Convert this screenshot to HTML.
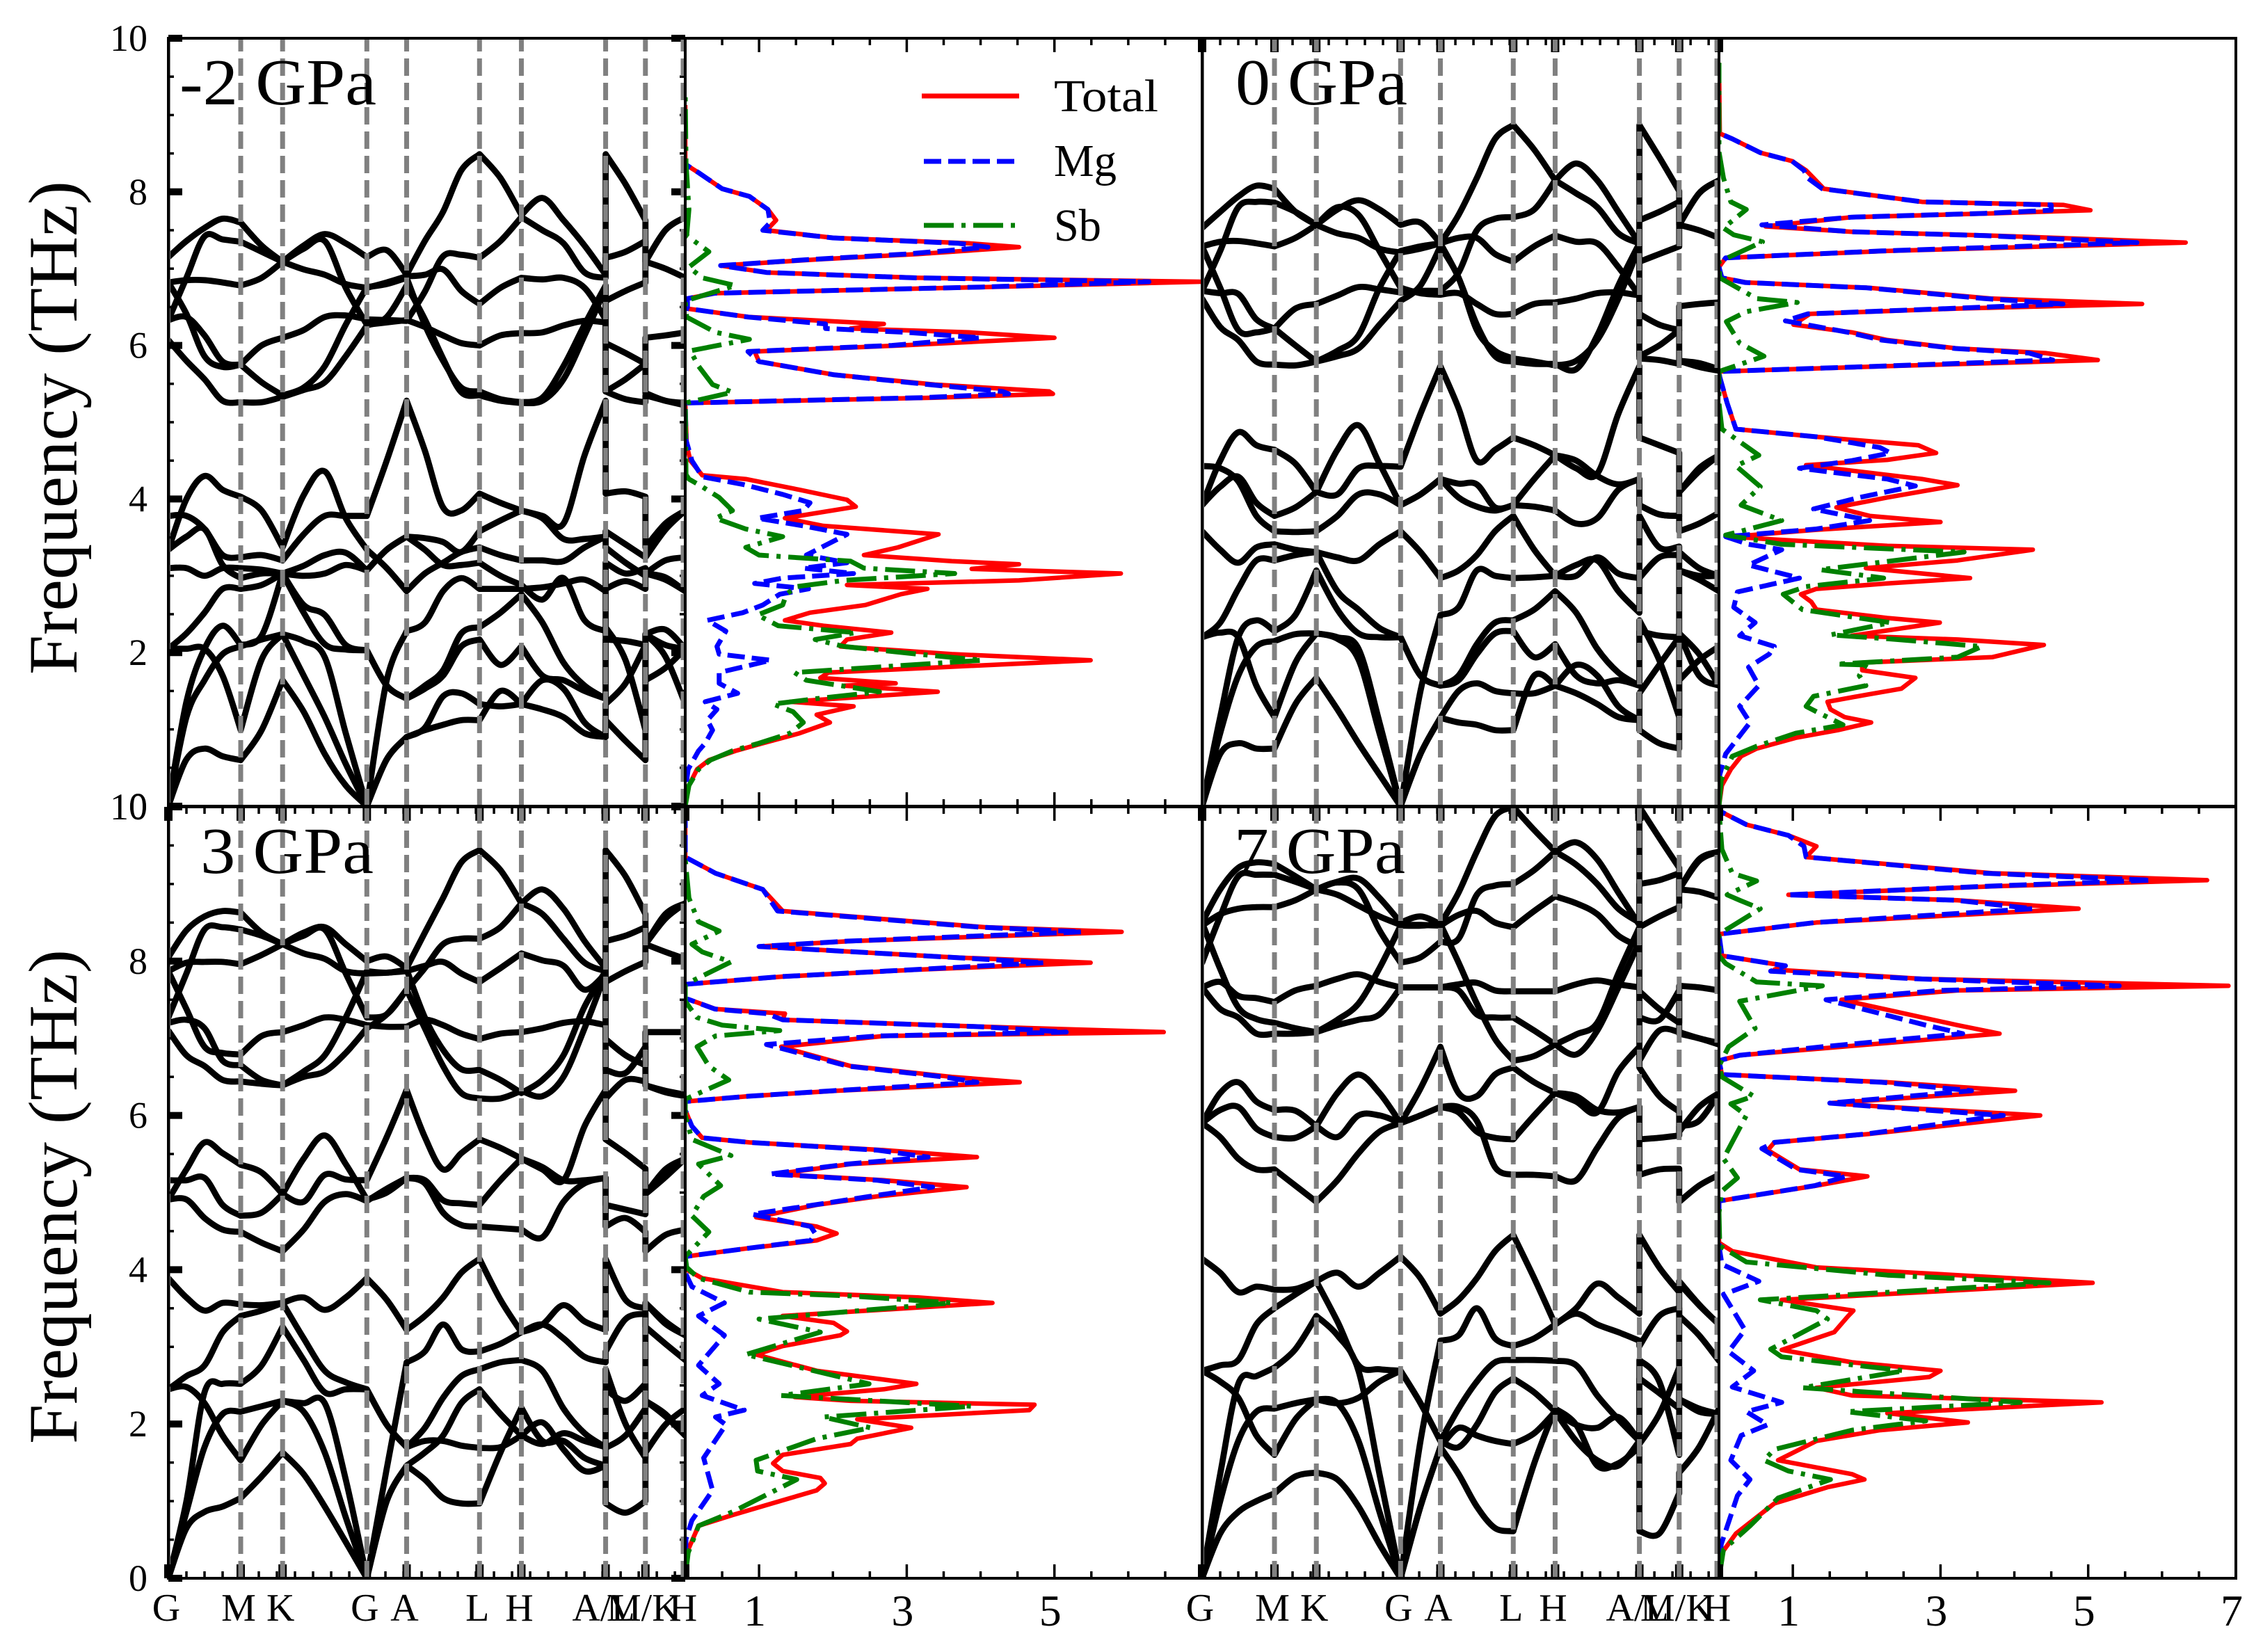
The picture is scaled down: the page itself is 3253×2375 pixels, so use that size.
<!DOCTYPE html>
<html lang="en">
<head>
<meta charset="utf-8">
<title>Phonon bands and DOS of Mg3Sb2 under pressure</title>
<style>
html,body{margin:0;padding:0;background:#fff;}
body{width:3253px;height:2375px;overflow:hidden;}
svg{display:block;}
text{font-family:"Liberation Serif",serif;fill:#000;}
</style>
</head>
<body>
<svg id="chart" xmlns="http://www.w3.org/2000/svg" width="3253" height="2375" viewBox="0 0 3253 2375">
  <rect x="0" y="0" width="3253" height="2375" fill="#fff"/>
  <defs id="clips"></defs>
  <g id="marks"></g>
  <g id="axes"></g>

  <text transform="translate(110,970) rotate(-90)" font-size="100" textLength="710" lengthAdjust="spacingAndGlyphs">Frequency (THz)</text>
  <text transform="translate(110,2076) rotate(-90)" font-size="100" textLength="711" lengthAdjust="spacingAndGlyphs">Frequency (THz)</text>

  <text x="258" y="150" font-size="94" textLength="283" lengthAdjust="spacingAndGlyphs">-2 GPa</text>
  <text x="1776" y="150" font-size="94" textLength="247" lengthAdjust="spacingAndGlyphs">0 GPa</text>
  <text x="288" y="1255" font-size="94" textLength="249" lengthAdjust="spacingAndGlyphs">3 GPa</text>
  <text x="1774" y="1255" font-size="94" textLength="246" lengthAdjust="spacingAndGlyphs">7 GPa</text>

  <g>
    <line x1="1325" y1="138" x2="1465" y2="138" stroke="#ff0000" stroke-width="7"/>
    <text x="1515" y="160" font-size="66" textLength="150" lengthAdjust="spacingAndGlyphs">Total</text>
    <line x1="1328" y1="232" x2="1459" y2="232" stroke="#0000ff" stroke-width="7" stroke-dasharray="25 10"/>
    <text x="1515" y="253" font-size="66" textLength="90" lengthAdjust="spacingAndGlyphs">Mg</text>
    <line x1="1328" y1="324" x2="1459" y2="324" stroke="#008000" stroke-width="7" stroke-dasharray="43 11 6 11"/>
    <text x="1515" y="346" font-size="66" textLength="68" lengthAdjust="spacingAndGlyphs">Sb</text>
  </g>
  <g id="ticklabels"></g>
</svg>
<script>
// ---- axis categories and tick labels ----
const kPathLabels = ['G','M','K','G','A','L','H','A/L','M/K','H'];
const kPathPositions = [0,0.140,0.221,0.384,0.461,0.602,0.683,0.846,0.923,1];
const segmentSubdivisions = [4,2,4,2,4,2,4,2,2];
const freqTickValues = [0,2,4,6,8,10];
const freqTickLabels = ['0','2','4','6','8','10'];
const dosTickValues = [1,3,5,7];
const dosTickLabels = ['1','3','5','7'];
const pressures = ['-2 GPa','0 GPa','3 GPa','7 GPa'];

// ---- phonon branch frequencies (THz) along G-M-K-G-A-L-H-A | L-M | K-H ----
const bandsMinus2 = [
[7.15,7.36,7.53,7.65,7.6,7.3,7.09,7.3,7.45,7.33,7.15,7.24,6.92,7.36,7.74,8.28,8.49,8.18,7.7,7.92,7.63,7.3,6.92,8.49,8.1,7.63,7.09,7.5,7.67],
[6.33,6.88,7.42,7.38,7.35,7.22,7.09,7.26,7.36,6.75,6.27,6.3,6.33,6.24,6.13,6.03,6.0,6.13,6.16,6.17,6.26,6.32,6.3,6.03,5.9,5.76,6.1,6.13,6.17],
[6.82,6.85,6.85,6.82,6.78,6.88,7.09,6.99,6.92,6.8,6.75,6.82,6.9,6.92,6.99,6.71,6.54,6.75,6.88,6.86,6.88,6.75,6.34,6.58,6.71,6.82,7.09,7.0,6.88],
[6.82,6.41,5.86,5.72,5.75,6.0,6.1,6.2,6.37,6.39,6.34,6.33,6.32,6.7,7.16,7.18,7.14,7.36,7.67,7.5,7.33,6.95,6.88,7.14,7.22,7.36,7.09,7.5,7.67],
[6.33,6.37,6.13,5.79,5.75,5.52,5.35,5.45,5.73,6.27,6.76,6.8,6.88,6.27,5.8,5.45,5.4,5.3,5.26,5.32,5.73,6.27,6.78,5.4,5.56,5.76,5.38,5.28,5.25],
[6.07,5.8,5.56,5.28,5.26,5.26,5.33,5.42,5.52,5.86,6.26,6.37,6.78,6.34,5.83,5.39,5.35,5.28,5.25,5.28,5.56,6.13,6.75,5.4,5.3,5.26,5.35,5.28,5.22],
[3.34,4.0,4.3,4.12,4.03,3.85,3.37,4.05,4.36,3.75,3.34,3.1,2.8,3.03,3.17,3.31,3.37,3.27,3.2,3.2,3.19,3.37,3.51,3.37,3.17,3.0,3.03,2.98,2.8],
[3.78,3.78,3.61,3.27,3.24,3.27,3.2,3.54,3.78,3.78,3.78,4.5,5.28,4.63,3.89,3.85,4.07,3.95,3.85,3.78,3.68,4.57,5.28,4.07,4.1,4.03,3.37,3.68,3.85],
[3.34,3.51,3.61,3.14,2.97,3.03,3.03,3.13,3.27,3.3,3.07,3.34,3.51,3.49,3.44,3.31,3.58,3.72,3.85,3.75,3.48,3.48,3.51,3.58,3.41,3.24,3.24,3.6,3.85],
[3.1,3.1,3.0,3.1,3.1,3.08,3.03,3.0,3.03,3.14,3.07,3.34,3.51,3.34,3.14,3.14,3.17,3.0,2.88,2.69,2.97,2.42,2.28,3.17,3.03,3.1,3.03,3.2,3.24],
[2.05,2.25,2.52,2.83,2.83,2.88,3.03,2.62,2.49,2.1,2.03,1.57,1.4,1.57,1.77,2.25,2.33,2.52,2.76,2.39,1.87,1.57,1.4,2.33,1.9,0.99,2.24,1.95,1.33],
[0,1.36,2.05,2.35,2.1,2.22,3.03,2.52,2.11,2.04,2.03,1.57,1.4,1.53,1.7,2.08,2.17,1.84,2.08,1.7,1.64,1.5,1.4,2.17,2.15,2.1,2.24,2.1,2.05],
[0,1.16,1.64,1.98,2.08,2.17,2.24,2.15,1.94,0.95,0,0.61,0.9,0.99,1.06,1.12,1.12,1.5,1.33,1.26,1.16,0.95,0.9,1.12,0.85,0.6,2.24,2.3,2.05],
[2.05,2.05,2.05,1.7,0.99,1.91,2.24,1.7,1.16,0.55,0,1.64,2.28,2.39,2.8,2.97,2.83,2.83,2.83,2.85,2.9,2.95,2.8,2.83,2.93,2.83,3.03,2.95,2.8],
[0,0.61,0.75,0.65,0.6,0.99,1.64,1.23,0.68,0.27,0,0.61,0.9,1.02,1.43,1.47,1.33,1.3,1.33,1.64,1.53,1.09,0.9,1.33,1.6,2.1,1.64,1.8,2.05]
];
const bandsZero = [
[7.53,7.74,7.94,8.08,8.04,7.74,7.57,7.77,7.89,7.77,7.57,7.6,7.33,7.7,8.18,8.69,8.87,8.55,8.15,8.37,8.15,7.74,7.33,8.87,8.45,8.01,7.57,7.98,8.15],
[6.71,7.23,7.8,7.87,7.86,7.74,7.57,7.8,7.7,7.23,6.75,6.68,6.66,6.68,6.54,6.41,6.41,6.54,6.56,6.61,6.68,6.69,6.65,6.41,6.27,6.2,6.51,6.54,6.56],
[7.29,7.35,7.36,7.33,7.29,7.4,7.57,7.46,7.4,7.26,7.21,7.26,7.33,7.4,7.4,7.19,7.09,7.29,7.43,7.35,7.33,7.02,6.65,7.09,7.19,7.29,7.57,7.5,7.4],
[7.29,6.75,6.2,6.17,6.22,6.48,6.54,6.65,6.76,6.73,6.69,6.71,6.71,6.95,7.5,7.65,7.67,7.77,8.15,7.98,7.8,7.46,7.33,7.63,7.74,7.87,7.57,7.98,8.15],
[6.71,6.68,6.67,6.34,6.22,6.0,5.79,5.93,6.13,6.75,7.23,7.29,7.33,6.88,6.27,5.86,5.79,5.76,5.76,5.69,6.13,6.78,7.33,5.86,6.0,6.2,5.8,5.77,5.69],
[6.61,6.24,6.07,5.79,5.75,5.74,5.79,5.86,5.96,6.27,6.58,6.78,7.29,6.88,6.2,5.93,5.83,5.79,5.74,5.8,6.07,6.61,7.29,5.83,5.81,5.76,5.8,5.72,5.67],
[3.92,4.5,4.87,4.7,4.64,4.46,4.09,4.64,4.96,4.46,3.92,4.06,4.26,4.02,3.9,3.85,3.92,4.26,4.57,4.5,4.3,4.19,4.26,3.92,3.8,3.78,4.09,4.4,4.57],
[4.43,4.4,4.23,3.78,3.58,3.57,3.58,3.78,4.06,4.06,3.92,4.06,4.26,4.2,4.19,3.89,3.92,3.9,3.85,3.68,3.75,4.12,4.26,3.92,3.8,3.78,3.58,3.68,3.82],
[3.92,4.16,4.29,3.95,3.78,3.89,4.09,4.06,4.4,4.43,4.42,5.11,5.73,5.18,4.5,4.64,4.8,4.7,4.57,4.4,4.33,5.11,5.73,4.8,4.7,4.6,4.09,4.36,4.57],
[3.58,3.34,3.17,3.37,3.41,3.34,3.31,3.24,3.2,3.41,3.58,3.31,2.97,3.07,3.27,3.58,3.78,3.34,3.0,3.0,3.24,3.03,2.97,3.78,3.37,3.38,3.31,3.1,3.0],
[2.2,2.39,2.83,3.2,3.2,3.27,3.31,2.8,2.56,2.32,2.2,1.7,1.57,1.7,2.11,2.39,2.42,2.56,2.8,2.52,2.05,1.74,1.57,2.42,1.9,1.16,2.25,1.98,1.57],
[2.2,2.26,2.2,1.57,1.16,1.87,2.25,2.2,2.05,1.09,0,1.5,2.49,2.59,3.07,3.0,2.97,2.98,3.0,3.14,3.2,2.8,2.52,2.97,3.24,3.27,3.07,2.95,2.8],
[0,1.16,2.2,2.42,2.28,2.49,3.07,2.56,2.25,2.2,2.2,1.7,1.57,1.64,1.98,2.25,2.28,1.94,2.11,1.7,1.6,1.64,1.57,2.28,2.22,2.2,3.07,3.0,3.0],
[0,0.95,1.7,2.08,2.15,2.24,2.25,2.18,1.91,0.95,0,0.68,1.15,1.09,1.06,0.99,0.99,1.7,1.57,1.84,1.7,1.3,1.12,0.99,0.82,0.75,1.64,1.9,2.08],
[0,0.68,0.82,0.75,0.75,1.33,1.67,1.26,0.82,0.41,0,0.68,1.15,1.5,1.6,1.5,1.47,1.47,1.57,1.47,1.33,1.16,1.12,1.47,1.84,2.2,2.25,1.7,1.57]
];
const bandsThree = [
[8.05,8.4,8.58,8.65,8.63,8.37,8.22,8.37,8.44,8.22,8.0,8.06,7.91,8.37,8.82,9.28,9.44,9.18,8.75,8.93,8.68,8.26,7.91,9.44,9.1,8.61,8.22,8.61,8.75],
[7.27,7.84,8.41,8.44,8.41,8.33,8.22,8.33,8.41,7.84,7.27,7.31,7.63,7.91,8.22,8.29,8.29,8.44,8.75,8.61,8.29,7.98,7.87,8.26,8.33,8.44,8.22,8.55,8.75],
[7.87,7.98,7.99,7.99,7.96,8.08,8.22,8.1,8.03,7.87,7.84,7.85,7.87,7.94,7.99,7.84,7.73,7.91,8.1,8.01,7.94,7.63,7.84,7.73,7.87,7.99,8.22,8.12,8.03],
[7.87,7.38,6.89,6.81,6.79,7.03,7.08,7.17,7.27,7.24,7.17,7.15,7.15,7.24,7.17,7.06,6.99,7.06,7.08,7.13,7.2,7.22,7.17,6.99,6.78,6.65,7.08,7.08,7.08],
[7.2,7.24,7.13,6.71,6.65,6.46,6.39,6.57,6.78,7.27,7.87,7.85,7.89,7.27,6.85,6.6,6.59,6.46,6.29,6.46,6.78,7.41,7.87,6.59,6.55,6.89,6.39,6.32,6.27],
[7.1,6.78,6.64,6.46,6.44,6.41,6.39,6.5,6.57,6.81,7.13,7.31,7.63,7.13,6.64,6.29,6.22,6.22,6.32,6.25,6.5,7.13,7.84,6.22,6.46,6.44,6.39,6.3,6.25],
[4.91,5.3,5.65,5.51,5.36,5.26,4.98,5.44,5.74,5.37,4.91,5.0,5.19,5.16,4.9,4.86,4.84,5.16,5.44,5.33,5.16,5.16,5.19,4.84,4.78,4.72,4.98,5.2,5.44],
[5.16,5.16,5.19,4.84,4.7,4.74,4.98,4.88,5.23,5.17,5.16,5.72,6.33,5.72,5.3,5.51,5.69,5.58,5.44,5.3,5.16,5.86,6.33,5.69,5.51,5.31,4.98,5.3,5.44],
[4.91,4.91,4.67,4.52,4.49,4.35,4.24,4.52,4.88,4.98,4.89,5.05,5.19,5.12,4.74,4.58,4.56,4.54,4.52,4.42,4.88,5.12,5.19,4.56,4.67,4.49,4.24,4.45,4.52],
[3.89,3.64,3.47,3.57,3.55,3.54,3.57,3.64,3.48,3.64,3.89,3.61,3.22,3.4,3.64,3.96,4.14,3.61,3.19,3.29,3.54,3.33,3.22,4.14,3.61,3.5,3.57,3.33,3.15],
[2.45,2.62,2.76,3.19,3.4,3.47,3.57,3.11,2.69,2.54,2.45,1.99,1.7,1.95,2.34,2.62,2.71,2.8,2.83,2.69,2.2,1.88,1.7,2.71,2.0,1.56,3.57,3.3,3.15],
[2.45,2.48,2.27,1.85,1.53,1.99,2.3,2.27,2.27,1.28,0,1.42,2.8,2.94,3.29,2.97,2.94,3.04,3.19,3.29,3.11,2.87,2.8,2.94,3.36,3.43,3.26,3.04,2.83],
[0,1.0,2.41,2.52,2.52,2.76,3.26,2.83,2.41,2.45,2.45,1.99,1.7,1.78,1.78,1.72,1.69,1.7,1.85,1.74,1.88,1.78,1.7,1.69,1.85,2.2,2.3,2.13,1.85],
[0,0.86,1.7,2.13,2.16,2.23,2.3,2.16,1.63,0.79,0,1.0,1.46,1.63,1.85,2.27,2.45,2.13,1.85,2.02,1.67,1.39,1.46,2.45,2.3,2.52,2.3,2.1,1.85],
[0,0.65,0.86,0.93,1.04,1.32,1.63,1.35,0.93,0.47,0,1.0,1.46,1.28,1.04,0.97,0.97,1.63,2.21,1.78,1.78,1.56,1.46,0.97,0.85,1.0,1.63,1.99,2.2]
];
const bandsSeven = [
[8.5,8.93,9.21,9.28,9.26,9.1,8.93,9.03,9.07,8.82,8.5,8.58,8.48,8.89,9.42,9.88,10.0,9.7,9.42,9.54,9.32,8.89,8.47,10.0,9.6,9.21,8.93,9.32,9.42],
[7.98,8.58,9.1,9.12,9.12,9.03,8.93,9.02,8.93,8.4,7.98,8.05,8.25,8.29,8.86,8.98,9.0,9.18,9.42,9.25,9.0,8.68,8.5,9.0,9.05,9.14,8.93,9.3,9.42],
[8.46,8.61,8.68,8.7,8.7,8.79,8.93,8.86,8.72,8.58,8.47,8.47,8.46,8.6,8.65,8.5,8.44,8.65,8.84,8.75,8.61,8.33,8.19,8.44,8.58,8.7,8.93,8.9,8.82],
[8.5,7.9,7.4,7.25,7.2,7.13,7.08,7.24,7.45,7.91,8.46,8.46,8.48,7.98,7.45,6.99,6.71,6.77,6.92,6.79,7.1,7.66,8.25,6.71,7.1,7.08,7.08,7.0,6.94],
[7.66,7.73,7.55,7.52,7.47,7.62,7.68,7.77,7.83,7.73,7.66,7.66,7.66,7.7,7.72,7.62,7.61,7.61,7.61,7.7,7.75,7.7,7.66,7.61,7.38,7.2,7.68,7.66,7.62],
[7.66,7.38,7.27,7.06,7.06,7.06,7.08,7.17,7.24,7.31,7.66,7.66,7.66,7.62,7.31,7.27,7.27,7.1,6.92,7.05,7.2,7.84,8.44,7.27,7.24,7.62,7.06,7.0,6.92],
[5.9,6.29,6.43,6.18,6.07,6.06,5.86,6.29,6.53,6.29,5.9,6.35,6.89,6.29,6.25,6.53,6.62,6.43,6.29,6.18,6.04,6.57,6.89,6.62,6.25,6.05,5.79,6.11,6.29],
[5.9,6.07,6.11,5.83,5.72,5.71,5.86,5.72,6.0,6.0,5.9,6.0,6.11,6.11,5.93,5.33,5.23,5.23,5.21,5.16,5.58,5.97,6.11,5.23,5.3,5.31,4.88,5.09,5.23],
[5.9,5.72,5.44,5.3,5.3,5.09,4.88,5.16,5.51,5.79,5.9,6.0,6.11,6.04,5.79,5.71,5.69,6.0,6.29,6.25,6.07,6.04,6.11,5.69,5.71,5.74,5.86,5.93,6.29],
[4.14,3.96,3.71,3.78,3.74,3.75,3.85,3.96,3.78,3.96,4.17,3.89,3.43,3.61,3.89,4.24,4.45,3.89,3.29,3.5,3.82,3.64,3.43,4.45,4.03,3.71,3.82,3.54,3.29],
[2.69,2.76,2.83,3.29,3.5,3.68,3.85,3.33,2.76,2.71,2.69,2.27,1.78,2.2,2.55,2.8,2.83,2.83,2.82,2.76,2.37,2.06,1.78,2.83,2.55,1.6,3.85,3.55,3.29],
[2.69,2.55,2.34,1.85,1.6,2.06,2.32,2.27,2.34,2.55,2.69,2.27,1.78,1.7,1.99,2.41,2.59,2.41,2.16,1.78,1.53,1.46,1.78,2.59,2.4,2.2,2.32,2.2,2.13],
[0,1.35,2.52,2.62,2.73,2.97,3.4,3.15,2.69,1.35,0,1.78,3.08,3.15,3.5,3.11,3.01,3.11,3.29,3.43,3.29,3.19,3.08,3.01,3.4,3.5,3.4,3.15,2.82],
[0,1.0,1.78,2.16,2.2,2.27,2.32,2.27,1.78,0.86,0,0.93,1.7,1.95,1.85,1.78,1.74,1.88,2.16,1.99,1.95,2.09,1.78,1.74,2.13,2.73,2.32,2.16,2.13],
[0,0.58,0.86,1.0,1.1,1.32,1.37,1.28,0.93,0.44,0,0.93,1.7,1.35,0.93,0.65,0.61,1.49,2.2,1.99,1.46,1.49,1.7,0.61,0.58,1.1,1.37,1.7,2.2]
];

// ---- phonon DOS: [frequency THz, DOS] ----
const dosTotalMinus2 = [[0,0],[0.27,0.05],[0.48,0.16],[0.6,0.32],[0.72,0.68],[0.82,1.05],[0.95,1.55],[1.09,1.96],[1.19,1.78],[1.3,2.28],[1.36,1.42],[1.49,3.42],[1.57,2.15],[1.6,2.85],[1.67,1.83],[1.74,1.94],[1.9,5.49],[1.98,3.61],[2.08,2.1],[2.17,2.19],[2.26,2.79],[2.35,1.87],[2.42,1.35],[2.52,1.69],[2.62,2.44],[2.76,2.92],[2.83,3.28],[2.88,2.19],[2.94,4.52],[3.03,5.9],[3.09,3.88],[3.15,4.52],[3.19,3.61],[3.27,2.42],[3.37,2.88],[3.54,3.43],[3.65,1.87],[3.75,1.35],[3.9,2.31],[3.99,2.19],[4.12,1.55],[4.26,0.82],[4.31,0.23],[4.5,0.07],[4.7,0.02],[5.25,0],[5.32,3.38],[5.37,4.98],[5.4,4.93],[5.49,3.38],[5.62,2.01],[5.79,1.0],[5.92,0.94],[6.0,2.92],[6.1,5.0],[6.17,3.84],[6.22,2.24],[6.28,2.69],[6.37,0.87],[6.48,0.02],[6.61,0.02],[6.68,0.41],[6.76,4.06],[6.83,6.99],[6.88,3.15],[6.95,1.1],[7.04,0.48],[7.12,1.78],[7.19,3.15],[7.28,4.52],[7.33,3.84],[7.4,2.01],[7.5,1.1],[7.63,1.23],[7.77,1.12],[7.94,0.87],[8.04,0.5],[8.25,0.18],[8.36,0],[9.13,0]];
const dosMgMinus2 = [[0,0],[0.27,0.01],[0.48,0.04],[0.72,0.18],[0.82,0.27],[0.99,0.37],[1.12,0.3],[1.26,0.43],[1.36,0.27],[1.47,0.71],[1.6,0.46],[1.74,0.46],[1.9,1.16],[1.98,0.46],[2.08,0.43],[2.28,0.55],[2.42,0.3],[2.52,0.78],[2.62,1.05],[2.76,1.28],[2.83,1.67],[2.9,0.94],[2.97,1.32],[3.03,2.28],[3.1,1.6],[3.17,2.19],[3.27,1.64],[3.54,2.19],[3.65,1.6],[3.75,0.98],[3.85,1.6],[3.95,1.69],[4.06,1.32],[4.19,0.78],[4.29,0.23],[4.5,0.09],[4.77,0.01],[5.25,0],[5.32,3.2],[5.37,4.38],[5.4,4.3],[5.49,3.3],[5.62,2.0],[5.79,1.0],[5.92,0.85],[6.0,2.8],[6.1,4.0],[6.17,3.0],[6.22,1.9],[6.28,1.9],[6.37,0.85],[6.48,0.03],[6.61,0.03],[6.68,0.4],[6.76,4.0],[6.83,6.28],[6.88,3.1],[6.95,1.1],[7.04,0.48],[7.12,1.7],[7.19,3.0],[7.28,4.1],[7.33,3.7],[7.4,2.0],[7.5,1.05],[7.6,1.15],[7.77,1.12],[7.94,0.87],[8.04,0.5],[8.25,0.18],[8.36,0]];
const dosSbMinus2 = [[0,0],[0.27,0.05],[0.48,0.18],[0.6,0.34],[0.72,0.64],[0.82,1.0],[0.95,1.42],[1.09,1.6],[1.23,1.46],[1.33,1.19],[1.4,1.78],[1.49,2.63],[1.64,1.64],[1.74,1.48],[1.9,4.02],[1.98,3.15],[2.08,2.15],[2.17,1.76],[2.26,2.31],[2.35,1.26],[2.49,0.98],[2.62,1.32],[2.76,1.37],[2.86,1.51],[2.94,2.15],[3.03,3.65],[3.1,2.42],[3.19,2.24],[3.27,1.0],[3.37,0.82],[3.51,1.32],[3.61,0.82],[3.75,0.41],[3.85,0.64],[4.02,0.46],[4.16,0.23],[4.26,0.05],[4.32,0.01],[5.25,0],[5.39,0.64],[5.49,0.37],[5.73,0.18],[5.93,0.07],[6.08,0.87],[6.17,0.41],[6.37,0.02],[6.58,0],[6.78,0.68],[6.88,0.23],[7.02,0.05],[7.22,0.32],[7.43,0.02],[7.77,0.05],[8.38,0.01],[9.27,0]];

const dosTotalZero = [[0,0],[0.27,0.04],[0.48,0.16],[0.65,0.3],[0.75,0.51],[0.89,1.04],[0.99,1.61],[1.09,2.06],[1.16,1.7],[1.26,1.51],[1.36,1.47],[1.45,1.99],[1.53,2.47],[1.67,2.66],[1.77,1.94],[1.87,1.94],[1.94,3.7],[2.1,4.4],[2.17,3.23],[2.22,1.8],[2.39,2.99],[2.45,2.28],[2.56,1.32],[2.66,1.25],[2.76,1.11],[2.83,1.32],[2.9,2.28],[2.97,3.4],[3.1,1.99],[3.2,3.23],[3.34,4.25],[3.39,2.28],[3.48,0.61],[3.51,0.18],[3.6,1.32],[3.7,3.0],[3.78,2.04],[3.89,1.59],[4.02,2.28],[4.18,3.23],[4.26,2.75],[4.44,1.18],[4.51,2.28],[4.6,2.94],[4.7,2.7],[4.81,1.32],[4.91,0.23],[5.25,0.11],[5.59,0.01],[5.66,0],[5.73,2.28],[5.81,5.13],[5.9,4.42],[5.96,3.23],[6.07,2.28],[6.17,1.8],[6.27,1.01],[6.41,1.23],[6.48,3.23],[6.54,5.73],[6.61,3.7],[6.75,2.04],[6.82,0.37],[6.88,0.04],[7.02,0],[7.14,0.09],[7.23,2.28],[7.34,6.32],[7.43,3.7],[7.48,1.8],[7.55,0.63],[7.67,1.8],[7.72,3.7],[7.76,5.03],[7.83,4.66],[7.87,2.75],[8.04,1.42],[8.18,1.28],[8.28,1.18],[8.4,0.99],[8.51,0.56],[8.69,0.18],[8.76,0.01],[9.68,0]];
const dosMgZero = [[0,0],[0.41,0.01],[0.68,0.09],[1.09,0.42],[1.3,0.28],[1.57,0.54],[1.81,0.4],[1.98,0.68],[2.08,0.75],[2.22,0.28],[2.39,0.49],[2.59,0.2],[2.79,0.25],[2.97,1.09],[3.14,0.4],[3.34,0.85],[3.41,0.4],[3.51,0.09],[3.61,1.32],[3.72,2.04],[3.87,1.28],[4.02,1.9],[4.17,2.66],[4.26,2.28],[4.4,1.09],[4.5,1.8],[4.6,2.32],[4.67,2.18],[4.81,1.32],[4.91,0.23],[5.25,0.11],[5.59,0.01],[5.66,0],[5.73,2.2],[5.81,4.52],[5.9,4.2],[5.96,3.2],[6.07,2.2],[6.17,1.75],[6.32,0.9],[6.41,1.2],[6.48,3.1],[6.54,4.66],[6.61,3.6],[6.75,2.0],[6.82,0.35],[6.88,0.04],[7.02,0],[7.14,0.09],[7.23,2.2],[7.34,5.66],[7.43,3.6],[7.48,1.8],[7.57,0.58],[7.67,1.8],[7.72,3.6],[7.76,4.5],[7.83,4.5],[7.87,2.75],[8.04,1.4],[8.18,1.2],[8.28,1.15],[8.4,0.99],[8.51,0.56],[8.69,0.18],[8.76,0.01]];
const dosSbZero = [[0,0],[0.34,0.03],[0.65,0.18],[0.78,0.51],[0.95,1.04],[1.06,1.68],[1.23,1.32],[1.3,1.18],[1.43,1.28],[1.57,1.99],[1.7,1.9],[1.84,1.99],[1.85,1.59],[1.94,3.23],[2.08,3.56],[2.18,2.28],[2.23,1.51],[2.39,2.32],[2.56,1.13],[2.76,0.87],[2.86,1.18],[2.97,2.23],[3.08,1.37],[3.31,3.32],[3.41,0.85],[3.53,0.09],[3.72,0.85],[3.92,0.3],[4.16,0.56],[4.43,0.23],[4.57,0.54],[4.91,0.04],[5.25,0],[5.66,0],[5.86,0.61],[6.03,0.28],[6.31,0.1],[6.44,0.37],[6.56,1.06],[6.61,0.51],[6.88,0.01],[7.09,0],[7.35,0.59],[7.44,0.2],[7.53,0.06],[7.77,0.37],[7.87,0.16],[8.18,0.06],[8.52,0],[9.68,0]];

const dosTotalThree = [[0,0],[0.37,0.04],[0.68,0.18],[0.82,0.64],[1.0,1.28],[1.14,1.78],[1.23,1.89],[1.3,1.83],[1.39,1.32],[1.49,1.19],[1.6,1.32],[1.74,2.24],[1.81,2.33],[1.95,3.06],[2.06,2.33],[2.18,4.66],[2.25,4.73],[2.3,2.24],[2.35,1.48],[2.45,2.69],[2.52,3.13],[2.69,1.78],[2.9,0.96],[3.01,1.32],[3.15,2.1],[3.2,2.19],[3.31,2.01],[3.4,1.32],[3.57,4.16],[3.64,3.15],[3.71,1.32],[3.89,0.23],[4.0,0.02],[4.17,0],[4.28,0.87],[4.38,1.78],[4.47,2.05],[4.56,1.78],[4.68,0.96],[4.84,1.78],[4.95,2.6],[5.07,3.81],[5.16,2.69],[5.24,1.23],[5.37,2.24],[5.46,3.95],[5.55,2.69],[5.65,0.87],[5.71,0.23],[5.86,0.09],[6.07,0],[6.18,0],[6.25,0.87],[6.32,2.05],[6.43,4.53],[6.5,3.61],[6.64,2.24],[6.89,1.3],[7.03,2.69],[7.08,6.48],[7.15,4.06],[7.24,1.32],[7.32,1.35],[7.38,0.41],[7.52,0],[7.7,0],[7.8,1.32],[7.89,3.15],[7.98,5.49],[8.05,3.61],[8.19,1.0],[8.26,2.24],[8.38,5.91],[8.44,4.06],[8.65,1.32],[8.93,1.05],[9.14,0.41],[9.35,0],[9.95,0]];
const dosMgThree = [[0,0],[0.51,0.01],[0.75,0.09],[1.14,0.37],[1.56,0.25],[1.99,0.55],[2.09,0.41],[2.18,0.8],[2.37,0.23],[2.52,0.46],[2.76,0.18],[3.15,0.53],[3.4,0.18],[3.57,0.53],[3.78,0.09],[3.96,0],[4.17,0],[4.28,0.87],[4.38,1.7],[4.47,1.76],[4.56,1.7],[4.72,0.91],[4.84,1.75],[4.95,2.5],[5.07,3.35],[5.16,2.6],[5.24,1.15],[5.37,2.2],[5.46,3.29],[5.55,2.6],[5.65,0.87],[5.71,0.23],[5.86,0.09],[6.07,0],[6.18,0],[6.25,0.87],[6.32,2.0],[6.43,3.95],[6.5,3.5],[6.64,2.2],[6.92,1.1],[7.03,2.6],[7.08,5.16],[7.15,4.0],[7.24,1.32],[7.32,1.1],[7.38,0.4],[7.52,0],[7.7,0],[7.8,1.3],[7.89,3.1],[7.98,4.86],[8.05,3.6],[8.19,1.0],[8.26,2.2],[8.38,5.37],[8.44,4.0],[8.65,1.25],[8.93,1.05],[9.14,0.41],[9.35,0],[9.95,0]];
const dosSbThree = [[0,0],[0.33,0.04],[0.68,0.18],[0.86,0.64],[1.28,1.51],[1.39,0.98],[1.53,0.96],[1.81,1.78],[1.95,2.51],[2.09,1.87],[2.23,3.88],[2.37,1.3],[2.52,2.49],[2.9,0.82],[3.11,1.55],[3.19,1.83],[3.36,1.0],[3.57,3.61],[3.66,2.24],[3.71,0.87],[3.89,0.18],[4.03,0.02],[4.17,0],[4.49,0.32],[4.7,0.09],[4.95,0.25],[5.09,0.48],[5.37,0.18],[5.48,0.62],[5.69,0.09],[6.0,0],[6.21,0],[6.46,0.59],[6.64,0.32],[6.89,0.16],[7.03,0.41],[7.1,1.28],[7.17,0.5],[7.27,0.16],[7.48,0],[7.7,0],[7.99,0.62],[8.12,0.23],[8.22,0.09],[8.39,0.46],[8.51,0.18],[8.82,0.05],[9.32,0]];

const dosTotalSeven = [[0,0],[0.33,0.04],[0.58,0.23],[0.97,0.75],[1.18,1.47],[1.28,1.97],[1.35,1.8],[1.53,0.8],[1.78,1.32],[1.92,2.18],[2.02,3.37],[2.14,2.28],[2.28,5.18],[2.37,1.8],[2.47,1.32],[2.61,2.85],[2.69,3.0],[2.8,1.8],[2.96,0.85],[3.19,1.56],[3.4,1.75],[3.47,1.82],[3.61,0.85],[3.83,5.06],[3.93,3.23],[4.03,1.32],[4.24,0.18],[4.35,0],[4.89,0],[5.09,1.32],[5.21,2.01],[5.3,1.09],[5.55,0.66],[5.65,0.75],[5.76,2.04],[6.0,4.35],[6.11,2.28],[6.16,1.51],[6.32,4.01],[6.43,2.28],[6.53,0.04],[6.71,0],[6.78,0.28],[6.89,1.66],[7.06,3.8],[7.17,3.23],[7.5,1.66],[7.62,3.23],[7.68,6.9],[7.77,2.75],[7.89,0.75],[7.94,0.9],[8.07,0.04],[8.35,0],[8.5,1.32],[8.68,4.87],[8.79,3.23],[8.86,0.94],[8.97,3.7],[9.05,6.61],[9.14,3.7],[9.35,1.18],[9.49,1.32],[9.63,0.94],[9.77,0.37],[9.95,0]];
const dosMgSeven = [[0,0],[0.44,0.03],[1.07,0.25],[1.28,0.42],[1.53,0.16],[1.85,0.3],[1.99,0.66],[2.16,0.37],[2.28,0.85],[2.48,0.18],[2.69,0.47],[2.94,0.13],[3.22,0.35],[3.68,0.06],[3.85,0.54],[4.07,0.04],[4.31,0],[4.89,0],[5.09,1.3],[5.21,1.72],[5.3,1.05],[5.57,0.58],[5.65,0.75],[5.76,2.0],[6.0,3.85],[6.11,2.2],[6.16,1.5],[6.32,3.42],[6.43,2.2],[6.53,0.04],[6.71,0],[6.78,0.28],[6.89,1.4],[7.06,3.3],[7.17,2.8],[7.5,1.45],[7.62,3.0],[7.68,5.42],[7.77,2.7],[7.87,0.7],[7.94,0.9],[8.07,0.04],[8.35,0],[8.5,1.3],[8.68,4.25],[8.79,3.2],[8.86,0.92],[8.97,3.6],[9.05,5.85],[9.14,3.6],[9.35,1.18],[9.49,1.15],[9.63,0.94],[9.77,0.37],[9.95,0]];
const dosSbSeven = [[0,0],[0.37,0.06],[0.68,0.42],[1.04,0.8],[1.28,1.51],[1.39,0.94],[1.53,0.61],[1.67,0.75],[1.92,1.8],[2.04,2.8],[2.16,1.73],[2.28,4.08],[2.47,1.13],[2.69,2.51],[2.87,0.85],[2.97,0.7],[3.36,1.47],[3.47,1.32],[3.61,0.56],[3.83,4.47],[3.93,2.28],[4.1,0.37],[4.31,0.01],[4.74,0],[5.02,0.04],[5.19,0.25],[5.44,0.06],[6.0,0.37],[6.15,0.16],[6.25,0.47],[6.5,0.04],[6.64,0],[6.89,0.13],[7.13,0.49],[7.48,0.28],[7.68,1.4],[7.73,0.51],[7.97,0.09],[8.07,0],[8.35,0],[8.68,0.56],[8.79,0.28],[8.86,0.11],[9.04,0.51],[9.14,0.18],[9.45,0.04],[9.95,0]];

const bandSets = [bandsMinus2, bandsZero, bandsThree, bandsSeven];
const dosTotals = [dosTotalMinus2, dosTotalZero, dosTotalThree, dosTotalSeven];
const dosMgs = [dosMgMinus2, dosMgZero, dosMgThree, dosMgSeven];
const dosSbs = [dosSbMinus2, dosSbZero, dosSbThree, dosSbSeven];

// ---- layout ----
const NS = 'http://www.w3.org/2000/svg';
const gMarks = document.getElementById('marks');
const gAxes = document.getElementById('axes');
const gLabels = document.getElementById('ticklabels');
const gClips = document.getElementById('clips');
const PANEL_W = 743;
const DOS_MAX = 7;
const rows = [{top:55,bottom:1159},{top:1160,bottom:2269}];
const columns = [{band:242,dos:985},{band:1728,dos:2471}];

function mk(tag, attrs, parent){
  const el = document.createElementNS(NS, tag);
  for (const k in attrs) el.setAttribute(k, attrs[k]);
  parent.appendChild(el);
  return el;
}
function freqScale(row){
  return f => row.bottom - (f/10)*(row.bottom-row.top);
}
function kScale(left){
  return k => left + k*PANEL_W;
}
function dosScale(left){
  return d => left + (d/DOS_MAX)*PANEL_W;
}
function addClip(id,x,row){
  const c = mk('clipPath',{id:id},gClips);
  mk('rect',{x:x,y:row.top,width:PANEL_W,height:row.bottom-row.top},c);
}
// grid of k coordinates built from the path positions
function buildSegments(){
  const segs=[]; let idx=0;
  segmentSubdivisions.forEach((n,s)=>{
    const k0=kPathPositions[s],k1=kPathPositions[s+1];
    const ks=[];
    for(let i=0;i<=n;i++) ks.push(k0+(k1-k0)*i/n);
    segs.push({start:idx,ks:ks});
    idx += (s<6) ? n : n+1;
  });
  return segs;
}
const segments = buildSegments();
// segment 7 (L-M) begins after node 22; segment 8 (K-H) after 25
segments[7].start = 23;
segments[8].start = 26;

function bandPath(values,xf,yf){
  let d='';
  segments.forEach((seg,si)=>{
    const pts = seg.ks.map((k,i)=>[xf(k),yf(values[seg.start+i])]);
    const n = pts.length;
    if(si===0) d += 'M'+pts[0][0].toFixed(1)+' '+pts[0][1].toFixed(1);
    else d += 'L'+pts[0][0].toFixed(1)+' '+pts[0][1].toFixed(1);
    for(let i=0;i<n-1;i++){
      const p0=pts[Math.max(i-1,0)],p1=pts[i],p2=pts[i+1],p3=pts[Math.min(i+2,n-1)];
      const c1x=p1[0]+(p2[0]-p0[0])/6,c1y=p1[1]+(p2[1]-p0[1])/6;
      const c2x=p2[0]-(p3[0]-p1[0])/6,c2y=p2[1]-(p3[1]-p1[1])/6;
      d+='C'+c1x.toFixed(1)+' '+c1y.toFixed(1)+' '+c2x.toFixed(1)+' '+c2y.toFixed(1)+' '+p2[0].toFixed(1)+' '+p2[1].toFixed(1);
    }
  });
  return d;
}
function dosPath(pairs,xf,yf){
  return pairs.map((p,i)=>(i?'L':'M')+xf(p[1]).toFixed(1)+' '+yf(p[0]).toFixed(1)).join('');
}
function tickLine(x1,y1,x2,y2,w,name){
  const t = mk('line',{x1:x1,y1:y1,x2:x2,y2:y2,stroke:'#000','stroke-width':w},gAxes);
  
  
  return t;
}

// ---- draw each pressure panel pair ----
pressures.forEach((label,pi)=>{
  const row = rows[pi<2?0:1];
  const col = columns[pi%2];
  const yf = freqScale(row);
  const kx = kScale(col.band);
  const dx = dosScale(col.dos);
  addClip('band-clip-'+pi,col.band,row);
  addClip('dos-clip-'+pi,col.dos,row);

  // phonon branches
  const gBand = mk('g',{'clip-path':'url(#band-clip-'+pi+')'},gMarks);
  
  
  bandSets[pi].forEach(values=>{
    const p = mk('path',{d:bandPath(values,kx,yf),fill:'none',stroke:'#000','stroke-width':8.8,'stroke-linejoin':'round','stroke-linecap':'round'},gBand);
    
    
  });

  // DOS curves
  const gDos = mk('g',{'clip-path':'url(#dos-clip-'+pi+')'},gMarks);
  
  
  const total = mk('path',{d:dosPath(dosTotals[pi],dx,yf),fill:'none',stroke:'#ff0000','stroke-width':6.5,'stroke-linejoin':'round'},gDos);
  
  
  const mg = mk('path',{d:dosPath(dosMgs[pi],dx,yf),fill:'none',stroke:'#0000ff','stroke-width':7,'stroke-dasharray':'25 10','stroke-linejoin':'round'},gDos);
  
  
  const sb = mk('path',{d:dosPath(dosSbs[pi],dx,yf),fill:'none',stroke:'#008000','stroke-width':7,'stroke-dasharray':'43 11 6 11','stroke-linejoin':'round'},gDos);
  
  

  // band x ticks (every panel except the top-left top edge)
  const hasTopTicks = pi!==0;
  const minorStep = (kPathPositions[1]-kPathPositions[0])/4;
  for(let k=minorStep;k<1;k+=minorStep){
    if(hasTopTicks) tickLine(kx(k),row.top,kx(k),row.top+10,3.5,'band-x-minor-tick');
    if(pi>=2) tickLine(kx(k),row.bottom,kx(k),row.bottom-10,3.5,'band-x-minor-tick');
  }
  kPathPositions.forEach(k=>{
    if(hasTopTicks) tickLine(kx(k),row.top,kx(k),row.top+20,12,'band-x-major-tick');
    if(pi>=2) tickLine(kx(k),row.bottom,kx(k),row.bottom-20,12,'band-x-major-tick');
  });

  // band y ticks on the left column
  if(pi%2===0){
    for(let f=0;f<=10;f+=0.5){
      const major = freqTickValues.indexOf(f)>=0;
      const len = major?20:8, w = major?10:3.5;
      const nm = major?'band-y-major-tick':'band-y-minor-tick';
      tickLine(col.band,yf(f),col.band+len,yf(f),w,nm);
      tickLine(col.dos,yf(f),col.dos-len,yf(f),w,nm);
    }
    freqTickValues.forEach((f,i)=>{
      const t = mk('text',{x:212,y:yf(f)+18,'font-size':54,'text-anchor':'end'},gLabels);
      t.textContent = freqTickLabels[i];
      
      
    });
  }

  // DOS x ticks (none on the top-right panel)
  const dosTicksOn = pi!==1;
  for(let d=0.5;d<DOS_MAX;d+=0.5){
    const major = dosTickValues.indexOf(d)>=0;
    const len = major?20:10;
    const nm = major?'dos-x-major-tick':'dos-x-minor-tick';
    if(dosTicksOn){
      tickLine(dx(d),row.top,dx(d),row.top+len,3.5,nm);
      tickLine(dx(d),row.bottom,dx(d),row.bottom-len,3.5,nm);
    }
  }

  // high-symmetry dashed guide lines
  kPathPositions.forEach((k,i)=>{
    if(i===0){
      const solid = mk('line',{x1:kx(k)+1,y1:row.top,x2:kx(k)+1,y2:row.bottom,stroke:'#808080','stroke-width':4},gMarks);
      
      
      return;
    }
    const xp = i===kPathPositions.length-1 ? kx(k)-3 : kx(k);
    const g = mk('line',{x1:xp,y1:row.bottom,x2:xp,y2:row.top,stroke:'#808080','stroke-width':7,'stroke-dasharray':'25 10'},gAxes);
    
    
  });

  // spines
  const frameA = mk('rect',{x:col.band,y:row.top,width:PANEL_W,height:row.bottom-row.top,fill:'none',stroke:'#000','stroke-width':4},gAxes);
  
  
  const frameB = mk('rect',{x:col.dos,y:row.top,width:PANEL_W,height:row.bottom-row.top,fill:'none',stroke:'#000','stroke-width':4},gAxes);
  
  

  // bottom-row tick labels
  if(pi>=2){
    kPathPositions.forEach((k,i)=>{
      const t = mk('text',{x:kx(k)-3,y:2330,'font-size':56,'text-anchor':'middle'},gLabels);
      t.textContent = kPathLabels[i];
      
      
    });
    dosTickValues.forEach((d,i)=>{
      if(d===7 && pi===2) return;
      const t = mk('text',{x:dx(d)-6,y:2337,'font-size':64,'text-anchor':'middle'},gLabels);
      t.textContent = dosTickLabels[i];
      
      
    });
  }
});
</script>
</body>
</html>
